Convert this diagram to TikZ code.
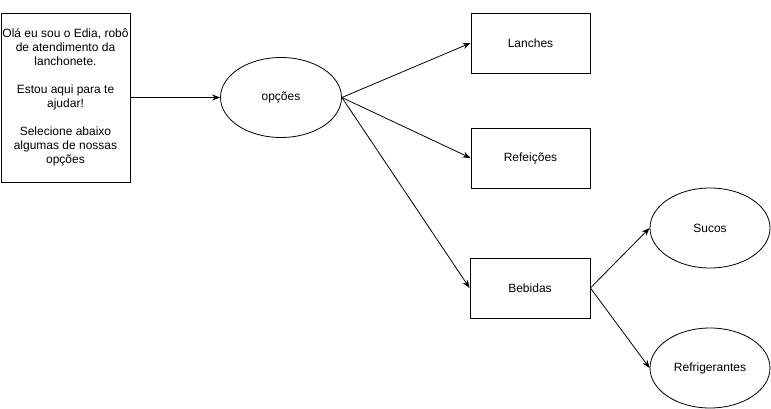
\documentclass[tikz,border=0pt]{standalone}
\usepackage{fontspec}
\setmainfont{Liberation Sans}
\usetikzlibrary{arrows.meta, shapes.geometric}

\begin{document}
\begin{tikzpicture}[x=1pt, y=-1pt, font=\fontsize{12}{14}\selectfont,
        box/.style={draw, line width=0.8pt, inner sep=0pt, minimum width=119pt, minimum height=60pt},
        oval/.style={draw, ellipse, line width=0.8pt, inner sep=0pt, minimum width=120pt, minimum height=80pt},
        link/.style={line width=0.8pt, -{Stealth[length=8pt, width=6pt]}}]
        \useasboundingbox (0, 0) rectangle (771, 409);

        \node[draw, line width=0.8pt, inner sep=0pt, minimum width=129pt, minimum height=169pt, align=center] (intro) at (65.5, 97.5)
                {Olá eu sou o Edia, robô\\de atendimento da\\lanchonete.\\[14pt]Estou aqui para te\\ajudar!\\[14pt]Selecione abaixo\\algumas de nossas\\opções};

        \node[oval, minimum width=121pt] (opcoes) at (281, 97.5) {opções};

        \node[box] (lanches) at (530.5, 43) {Lanches};
        \node[box] (refeicoes) at (530.5, 158) {Refeições};
        \node[box, minimum width=120pt] (bebidas) at (530, 288) {Bebidas};

        \node[oval] (sucos) at (710, 228) {Sucos};
        \node[oval] (refri) at (710, 368) {Refrigerantes};

        \draw[link] (intro.east) -- (opcoes.west);
        \draw[link] (opcoes.east) -- (lanches.west);
        \draw[link] (opcoes.east) -- (refeicoes.west);
        \draw[link] (opcoes.east) -- (bebidas.west);
        \draw[link] (bebidas.east) -- (sucos.west);
        \draw[link] (bebidas.east) -- (refri.west);
      \end{tikzpicture}
\end{document}
